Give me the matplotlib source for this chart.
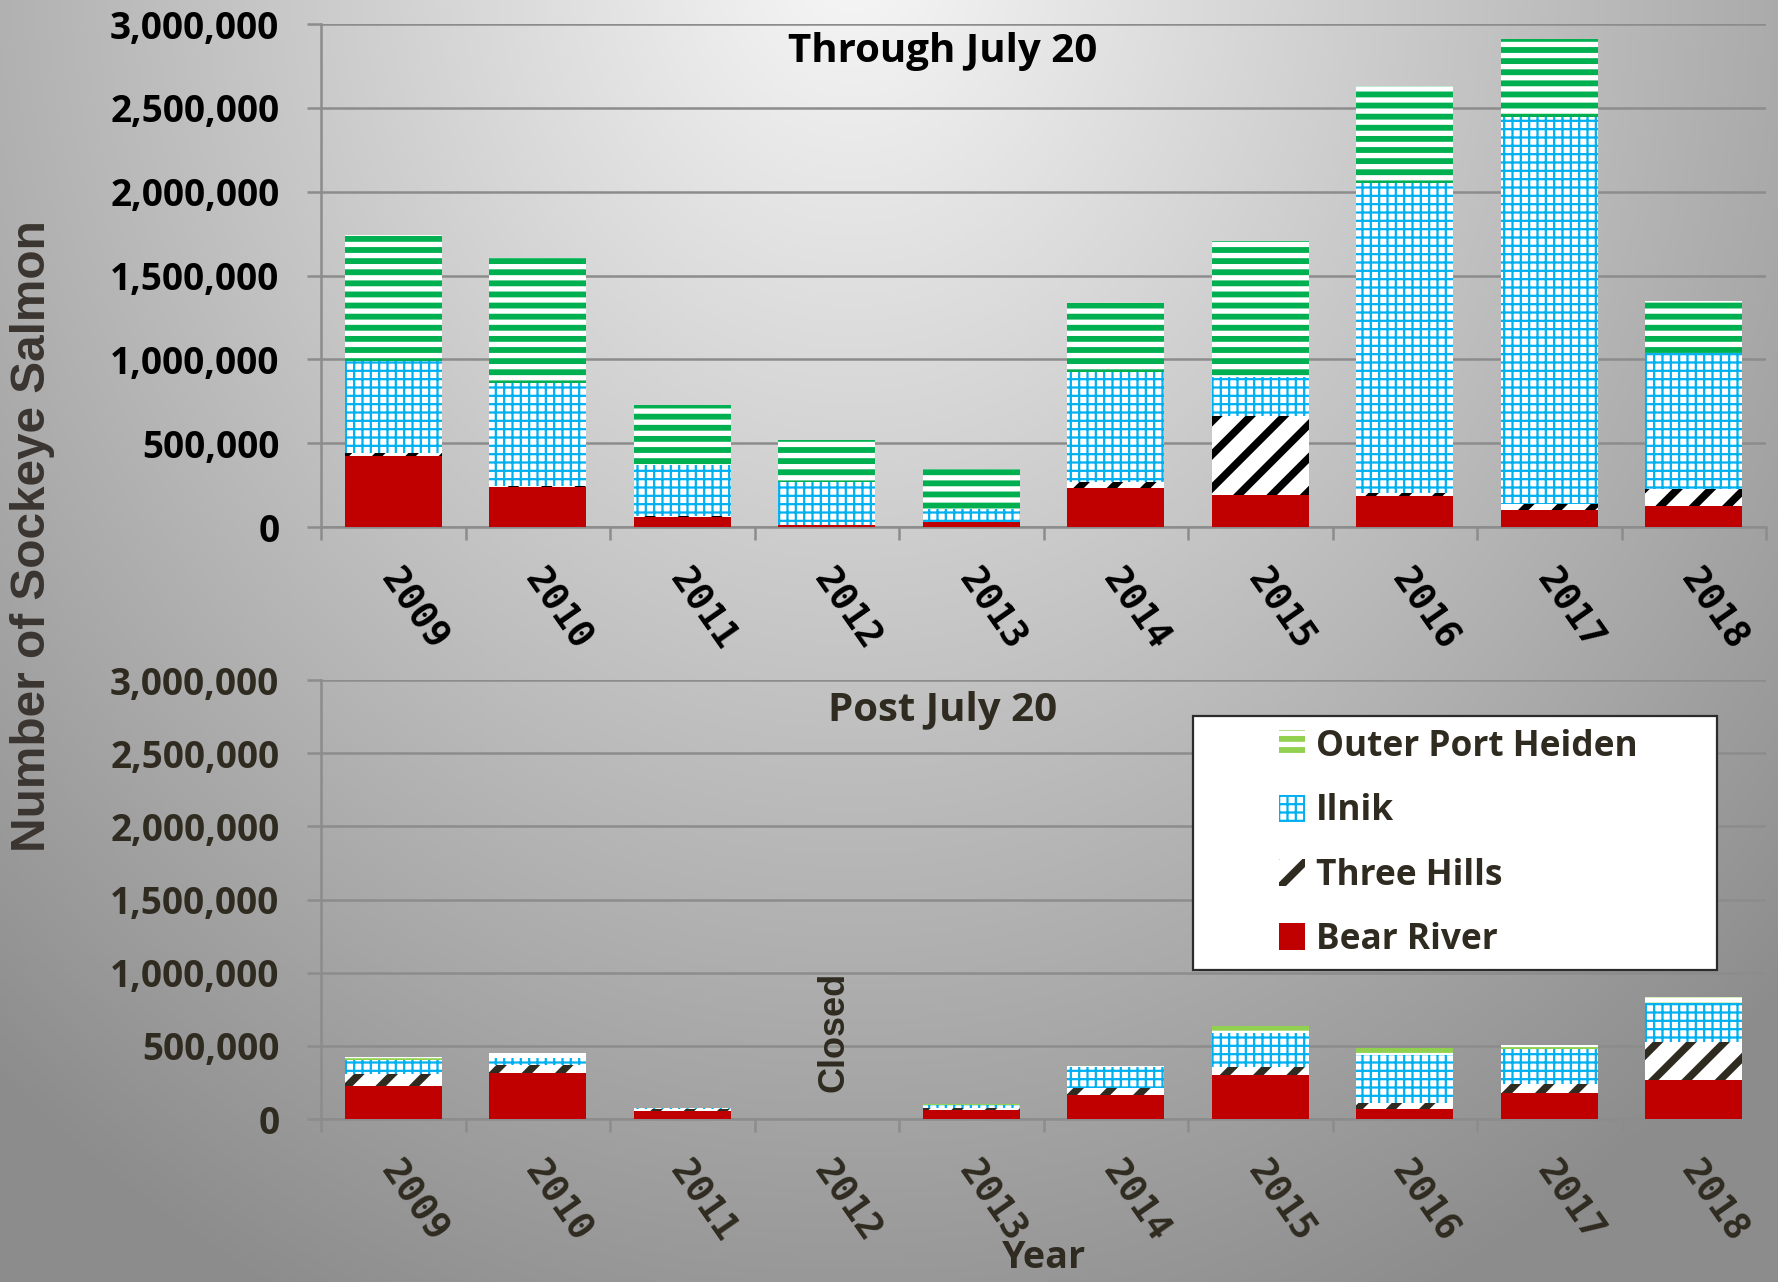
import numpy as np
import matplotlib
matplotlib.use("Agg")
import matplotlib.pyplot as plt
from matplotlib.patches import Patch, Rectangle
from matplotlib.ticker import FuncFormatter, MultipleLocator

years = ["2009", "2010", "2011", "2012", "2013", "2014", "2015", "2016", "2017", "2018"]

# through July 20
early_bear = [424000, 236000, 61000, 10000, 27000, 230000, 188000, 184000, 104000, 124000]
early_hills = [16000, 6000, 5000, 2000, 3000, 40000, 472000, 20000, 32000, 100000]
early_ilnik = [553000, 614000, 306000, 258000, 78000, 655000, 237000, 1846000, 2309000, 813000]
early_outer = [748000, 749000, 358000, 250000, 237000, 413000, 808000, 579000, 465000, 312000]

# post July 20 (2012 closed)
late_bear = [223000, 315000, 55000, 0, 64000, 164000, 299000, 66000, 180000, 269000]
late_hills = [87000, 55000, 10000, 0, 13000, 50000, 59000, 41000, 57000, 260000]
late_ilnik = [96000, 45000, 8000, 0, 20000, 140000, 232000, 329000, 244000, 262000]
late_outer = [19000, 39000, 4000, 0, 3000, 6000, 48000, 52000, 25000, 43000]

W, H, DPI = 1778, 1282, 200
fig = plt.figure(figsize=(W / DPI, H / DPI), dpi=DPI)

# gray gradient background
bg = fig.add_axes([0, 0, 1, 1], zorder=-10)
yy, xx = np.mgrid[0:H:4, 0:W:4]
d = np.sqrt(((xx - 850) / 1300.0) ** 2 + ((yy + 50) / 1500.0) ** 2)
v = np.clip(0.97 - 0.42 * np.minimum(d, 1.0), 0, 1)
bg.imshow(np.dstack([v, v, v]), extent=[0, 1, 0, 1], aspect="auto")
bg.axis("off")


def px_box(left, top, right, bottom):
    return [left / W, 1 - bottom / H, (right - left) / W, (bottom - top) / H]


ax1 = fig.add_axes(px_box(321, 24, 1766, 527))
ax2 = fig.add_axes(px_box(321, 680, 1766, 1119))

GRID = "#8c8c8c"


def set_hlw(patch, hlw):
    try:
        patch.set_hatch_linewidth(hlw)
    except AttributeError:
        pass


def style(ax, txt_color):
    ax.set_facecolor("none")
    ax.set_xlim(-0.5, 9.5)
    ax.set_ylim(0, 3000000)
    ax.yaxis.set_major_locator(MultipleLocator(500000))
    ax.yaxis.set_major_formatter(FuncFormatter(lambda val, p: f"{int(val):,}"))
    ax.grid(axis="y", color=GRID, linewidth=0.9)
    ax.set_axisbelow(True)
    for s in ["top", "right"]:
        ax.spines[s].set_visible(False)
    for s in ["left", "bottom"]:
        ax.spines[s].set_color(GRID)
        ax.spines[s].set_linewidth(0.9)
    ax.tick_params(axis="y", length=5, width=0.9, color=GRID, pad=10,
                   labelsize=13.3, labelcolor=txt_color)
    plt.setp(ax.get_yticklabels(), fontfamily="Open Sans", fontweight="bold")
    ax.set_xticks(np.arange(len(years)) - 0.04)
    ax.set_xticklabels(years, rotation=-55, ha="left", va="center",
                       rotation_mode="anchor", fontfamily="DejaVu Sans Mono",
                       fontweight="bold", fontsize=13.5, color=txt_color)
    ax.set_xticks(np.arange(-0.5, 10, 1), minor=True)
    ax.tick_params(axis="x", which="major", length=0, pad=16.5)
    ax.tick_params(axis="x", which="minor", length=4.7, width=0.9, color=GRID)


def stack(ax, bear, hills, ilnik, outer, outer_color, hills_color):
    x = np.arange(len(years))
    bottom = np.zeros(len(years))
    layers = [(bear, "#c00000", "#c00000", None, 0.5),
              (hills, "white", hills_color, "//", 2.7),
              (ilnik, "white", "#00b0f0", "++++", 0.8),
              (outer, "white", outer_color, "---", 2.1)]
    for vals, fc, hc, hatch, hlw in layers:
        with plt.rc_context({"hatch.linewidth": hlw}):
            bars = ax.bar(x, vals, 0.67, bottom=bottom, color=fc, edgecolor=hc,
                          hatch=hatch, linewidth=0, zorder=3)
        for b in bars:
            set_hlw(b, hlw)
        bottom = bottom + np.array(vals)


DARK = "#2f2b20"
style(ax1, "black")
style(ax2, DARK)
stack(ax1, early_bear, early_hills, early_ilnik, early_outer, "#00b050", "black")
stack(ax2, late_bear, late_hills, late_ilnik, late_outer, "#92d050", DARK)

ax1.text(0.43, 0.945, "Through July 20", transform=ax1.transAxes, ha="center",
         va="center", fontsize=14.5, fontfamily="Open Sans", fontweight="bold",
         color="black")
ax2.text(0.43, 0.93, "Post July 20", transform=ax2.transAxes, ha="center",
         va="center", fontsize=14.5, fontfamily="Open Sans", fontweight="bold",
         color=DARK)
ax2.text(3.05, 595000, "Closed", rotation=90, ha="center", va="center",
         fontsize=13, fontfamily="Liberation Sans", fontweight="bold", color=DARK)

# legend
ax2.add_patch(Rectangle((0.6035, 0.340), 0.3625, 0.579, transform=ax2.transAxes,
                        facecolor="white", edgecolor="#2b2b2b", linewidth=0.8,
                        zorder=5))
legend_items = [("Outer Port Heiden", "white", "#92d050", "---", 2.1),
                ("Ilnik", "white", "#00b0f0", "++++", 0.8),
                ("Three Hills", "white", DARK, "//", 2.7),
                ("Bear River", "#c00000", "#c00000", None, 0.5)]
handles = []
for lab, fc, hc, hatch, hlw in legend_items:
    with plt.rc_context({"hatch.linewidth": hlw}):
        h = Patch(facecolor=fc, edgecolor=hc, hatch=hatch, linewidth=0, label=lab)
    set_hlw(h, hlw)
    handles.append(h)
leg = ax2.legend(handles=handles, loc="upper left", bbox_to_anchor=(0.663, 0.888),
                 frameon=False, borderpad=0, borderaxespad=0, handlelength=0.75,
                 handleheight=0.8, handletextpad=0.3, labelspacing=0.8,
                 prop={"family": "Open Sans", "weight": "bold", "size": 12.7})
for t in leg.get_texts():
    t.set_color(DARK)
for lh, item in zip(leg.legend_handles, legend_items):
    set_hlw(lh, item[4])
leg.set_zorder(6)

fig.text(0.018, 0.582, "Number of Sockeye Salmon", rotation=90, ha="center",
         va="center", fontsize=17.2, fontfamily="Liberation Sans",
         fontweight="bold", color="#3a3530")
fig.text(0.587, 0.004, "Year", ha="center", va="bottom", fontsize=13.6,
         fontfamily="Open Sans", fontweight="bold", color=DARK)

fig.savefig("out.png", dpi=DPI)
